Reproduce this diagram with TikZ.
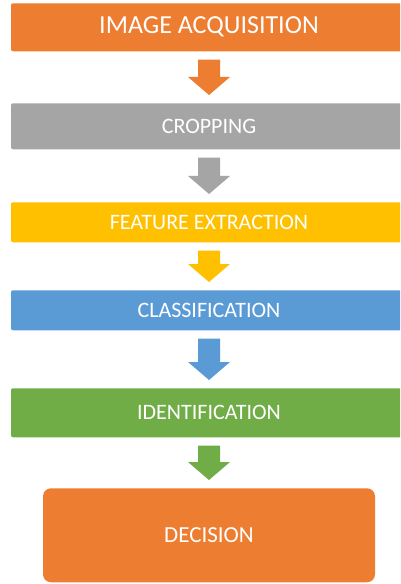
\documentclass[tikz,border=0pt]{standalone}
\usepackage{fontspec}
\setmainfont{Carlito}
\usetikzlibrary{calc}
\definecolor{corange}{HTML}{ED7D31}
\definecolor{cgray}{HTML}{A5A5A5}
\definecolor{cgold}{HTML}{FFC000}
\definecolor{cblue}{HTML}{5B9BD5}
\definecolor{cgreen}{HTML}{70AD47}
\tikzset{
  stage/.style={fill=#1, draw=none, rounded corners=1.5pt, text=white,
    minimum width={396*0.75pt}, inner sep=0pt, anchor=north},
  midtext/.style={font=\fontsize{16.5pt}{18pt}\selectfont},
}
\newcommand{\blockarrow}[3]{%
  \fill[#3] let \p1=($(#1.south)+(0,-6pt)$), \p2=($(#2.north)+(0,6pt)$) in
    (\x1-8.25pt,\y1) -- (\x1+8.25pt,\y1) -- (\x1+8.25pt,\y2+13.5pt) --
    (\x1+15.75pt,\y2+13.5pt) -- (\x1,\y2) -- (\x1-15.75pt,\y2+13.5pt) --
    (\x1-8.25pt,\y2+13.5pt) -- cycle;}
\begin{document}
\begin{tikzpicture}[x=0.75pt,y=-0.75pt]
\useasboundingbox[fill=white] (0,0) rectangle (400,584);
\begin{scope}
\clip (0,0) rectangle (400,584);
\node[stage=corange, minimum height={48*0.75pt}, font=\fontsize{19.5pt}{22pt}\selectfont] (b1) at (209,3) {IMAGE ACQUISITION};
\node[stage=cgray, minimum height={46*0.75pt}, midtext] (b2) at (209,103) {CROPPING};
\node[stage=cgold, minimum height={40*0.75pt}, midtext] (b3) at (209,202) {FEATURE EXTRACTION};
\node[stage=cblue, minimum height={40*0.75pt}, midtext] (b4) at (209,290) {CLASSIFICATION};
\node[stage=cgreen, minimum height={49*0.75pt}, midtext] (b5) at (209,388) {IDENTIFICATION};
\node[stage=corange, minimum width={332*0.75pt}, minimum height={94*0.75pt}, rounded corners=6pt, font=\fontsize{17.25pt}{20pt}\selectfont] (b6) at (209,488) {DECISION};
\blockarrow{b1}{b2}{corange}
\blockarrow{b2}{b3}{cgray}
\blockarrow{b3}{b4}{cgold}
\blockarrow{b4}{b5}{cblue}
\blockarrow{b5}{b6}{cgreen}
\end{scope}
\end{tikzpicture}
\end{document}
